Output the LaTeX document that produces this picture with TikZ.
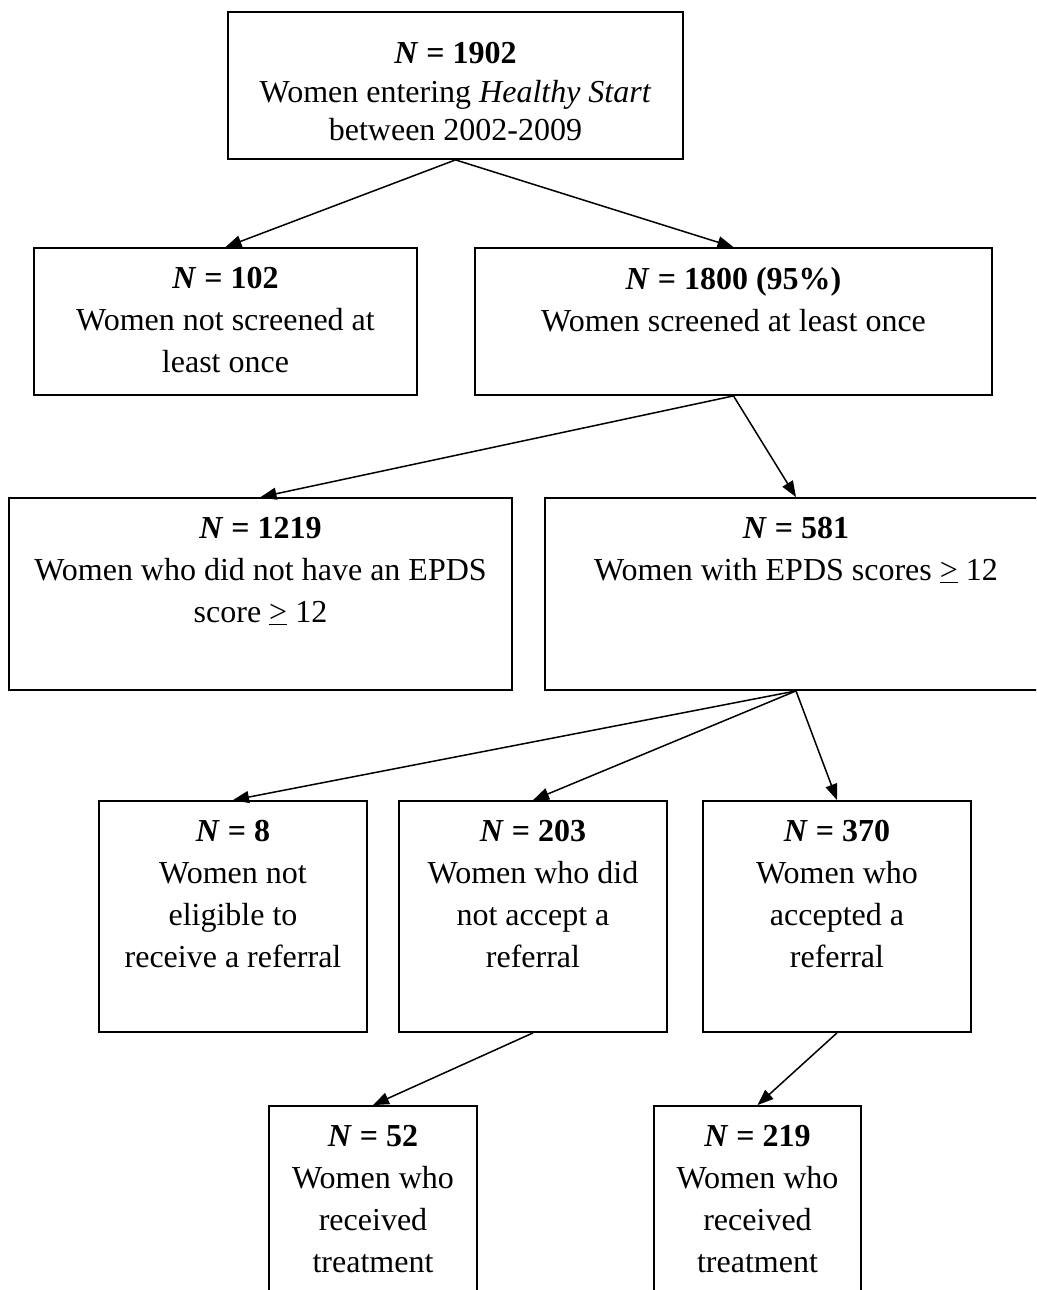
\documentclass[tikz,border=0pt]{standalone}
\usepackage{fontspec}
\setmainfont{Liberation Serif}
\usetikzlibrary{arrows.meta}
\begin{document}
\begin{tikzpicture}[x=1pt,y=-1pt,
  box/.style={draw, line width=1.8pt, inner sep=0pt, rectangle},
  txt/.style={anchor=north, align=center, inner sep=0pt, font=\fontsize{32pt}{42pt}\selectfont},
  conn/.style={line width=1.5pt, -{Triangle[length=16pt,width=12pt]}}]
\useasboundingbox (0,0) rectangle (1036,1290);
\fill[white] (0,0) rectangle (1036,1290);
\clip (0,0) rectangle (1036,1290);
% boxes
\node[box, minimum width=455pt, minimum height=147pt] (top) at (455.5,85.5) {};
\node[box, minimum width=383pt, minimum height=147pt] (n102) at (225.5,321.5) {};
\node[box, minimum width=517pt, minimum height=147pt] (n1800) at (733.5,321.5) {};
\node[box, minimum width=503pt, minimum height=192pt] (n1219) at (260.5,594) {};
\node[box, minimum width=502pt, minimum height=192pt] (n581) at (796,594) {};
\node[box, minimum width=268pt, minimum height=231pt] (n8) at (233,916.5) {};
\node[box, minimum width=268pt, minimum height=231pt] (n203) at (533,916.5) {};
\node[box, minimum width=268pt, minimum height=231pt] (n370) at (837,916.5) {};
\node[box, minimum width=208pt, minimum height=214pt] (n52) at (373,1213) {};
\node[box, minimum width=207pt, minimum height=214pt] (n219) at (757.5,1213) {};
% texts
\node[txt, font=\fontsize{32pt}{38.5pt}\selectfont] (ttop) at ([yshift=-31pt]top.north) {\textbf{\textit{N} = 1902}\\Women entering \textit{Healthy Start}\\between 2002-2009};
\node[txt] (t102) at ([yshift=-20pt]n102.north) {\textbf{\textit{N} = 102}\\Women not screened at\\least once};
\node[txt] (t1800) at ([yshift=-20pt]n1800.north) {\textbf{\textit{N} = 1800 (95\%)}\\Women screened at least once};
\node[txt] (t1219) at ([yshift=-20pt]n1219.north) {\textbf{\textit{N} = 1219}\\Women who did not have an EPDS\\score \underline{>} 12};
\node[txt] (t581) at ([yshift=-20pt]n581.north) {\textbf{\textit{N} = 581}\\Women with EPDS scores \underline{>} 12};
\node[txt] (t8) at ([yshift=-20pt]n8.north) {\textbf{\textit{N} = 8}\\Women not\\eligible to\\receive a referral};
\node[txt] (t203) at ([yshift=-20pt]n203.north) {\textbf{\textit{N} = 203}\\Women who did\\not accept a\\referral};
\node[txt] (t370) at ([yshift=-20pt]n370.north) {\textbf{\textit{N} = 370}\\Women who\\accepted a\\referral};
\node[txt] (t52) at ([yshift=-20pt]n52.north) {\textbf{\textit{N} = 52}\\Women who\\received\\treatment};
\node[txt] (t219) at ([yshift=-20pt]n219.north) {\textbf{\textit{N} = 219}\\Women who\\received\\treatment};
% connectors
\draw[conn] (top.south) -- (n102.north);
\draw[conn] (top.south) -- (n1800.north);
\draw[conn] (n1800.south) -- (n1219.north);
\draw[conn] (n1800.south) -- (n581.north);
\draw[conn] (n581.south) -- (n8.north);
\draw[conn] (n581.south) -- (n203.north);
\draw[conn] (n581.south) -- (n370.north);
\draw[conn] (n203.south) -- (n52.north);
\draw[conn] (n370.south) -- (n219.north);
\end{tikzpicture}
\end{document}
